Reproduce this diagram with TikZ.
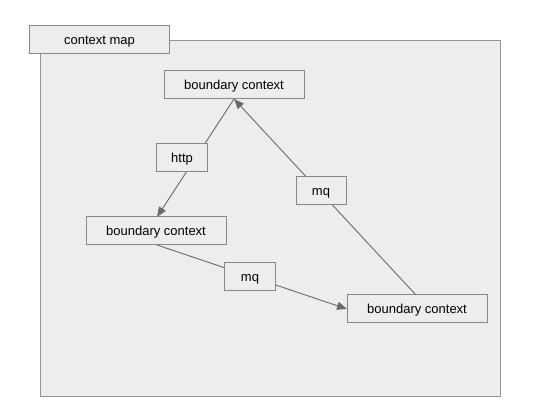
\documentclass[tikz,border=0pt]{standalone}
\usepackage{fontspec}
\setmainfont{Liberation Sans}
\usetikzlibrary{arrows.meta}
\definecolor{bgfill}{HTML}{EDEDED}
\definecolor{boxline}{HTML}{888888}
\definecolor{edgeline}{HTML}{6A6A6A}
\tikzset{
  bc/.style={draw=boxline, line width=1pt, fill=bgfill, minimum width=140pt, minimum height=28pt, inner sep=0pt, text height=9.5pt, text depth=0pt, font=\fontsize{13}{15}\selectfont},
  lbl/.style={bc, minimum width=51pt},
  rel/.style={draw=edgeline, line width=0.9pt},
  arr/.style={rel, -{Triangle[length=10pt,width=8pt]}}
}
\begin{document}
\begin{tikzpicture}[x=1pt,y=-1pt]
\useasboundingbox (0,0) rectangle (538,419);
\node[draw=boxline!90, line width=1.2pt, fill=bgfill, minimum width=460pt, minimum height=356pt, inner sep=0pt, anchor=north west] (frame) at (40,40) {};
\node[bc, anchor=north west] (tab) at (29,25) {context map};
\node[bc] (top) at (234,85) {boundary context};
\node[bc] (left) at (156,231) {boundary context};
\node[bc] (right) at (417,309) {boundary context};
\coordinate (topb) at (234,99);
\coordinate (leftt) at (157,217);
\coordinate (leftb) at (157,245);
\coordinate (rightl) at (347,309);
\coordinate (rightt) at (416,295);
\draw[arr] (topb) -- (leftt);
\draw[arr] (leftb) -- (rightl);
\draw[arr] (rightt) -- (topb);
\node[lbl] (http) at (182,158) {http};
\node[lbl] (mq1) at (250,277) {mq};
\node[lbl, minimum width=50pt] (mq2) at (321,191) {mq};
\end{tikzpicture}
\end{document}
